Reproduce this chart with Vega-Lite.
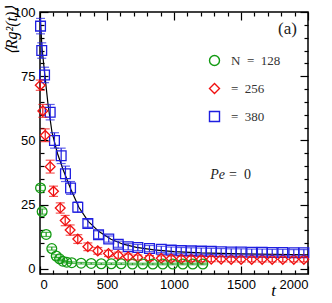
{
  "$schema": "https://vega.github.io/schema/vega-lite/v6.json",
  "width": 268,
  "height": 262,
  "autosize": "none",
  "padding": {"left": 40, "top": 12, "right": 24, "bottom": 29},
  "background": "white",
  "config": {
    "view": {"stroke": "black", "strokeWidth": 1.5},
    "axis": {"grid": false, "domain": false, "tickColor": "black", "tickWidth": 1.2,
             "labelFont": "Liberation Sans", "labelFontSize": 13, "labelColor": "black"},
    "legend": {"orient": "none", "legendX": 168, "legendY": 42, "title": null, "padding": 0,
               "rowPadding": 11, "labelOffset": 10, "symbolSize": 100, "symbolStrokeWidth": 1.4,
               "labelFont": "Liberation Serif", "labelFontSize": 13, "labelColor": "#333"}
  },
  "datasets": {
    "pts": [
      {"N":"380","t":4,"v":94.5,"err":3},{"N":"380","t":13,"v":85,"err":3},{"N":"380","t":34,"v":75.5,"err":3},
      {"N":"380","t":76,"v":61,"err":3},{"N":"380","t":108,"v":50,"err":3},{"N":"380","t":158,"v":44,"err":3},
      {"N":"380","t":190,"v":37,"err":3},{"N":"380","t":228,"v":31.5,"err":2.5},{"N":"380","t":282,"v":24,"err":2},
      {"N":"380","t":357,"v":17.7,"err":1.5},{"N":"380","t":437,"v":13.3,"err":1.5},{"N":"380","t":513,"v":11.6,"err":1.2},
      {"N":"380","t":584,"v":9.6,"err":1.2},{"N":"380","t":658,"v":8.6,"err":1.2},{"N":"380","t":730,"v":8.3,"err":1.2},
      {"N":"380","t":817,"v":7.9,"err":1.2},{"N":"380","t":905,"v":7.6,"err":1.2},{"N":"380","t":979,"v":7.3,"err":1.2},
      {"N":"380","t":1054,"v":7.1,"err":1.2},{"N":"380","t":1128,"v":7.0,"err":1.2},{"N":"380","t":1203,"v":6.9,"err":1.2},
      {"N":"380","t":1278,"v":6.8,"err":1.2},{"N":"380","t":1352,"v":6.7,"err":1.2},{"N":"380","t":1427,"v":6.6,"err":1.2},
      {"N":"380","t":1501,"v":6.6,"err":1.2},{"N":"380","t":1580,"v":6.5,"err":1.2},{"N":"380","t":1658,"v":6.5,"err":1.2},
      {"N":"380","t":1733,"v":6.4,"err":1.2},{"N":"380","t":1812,"v":6.4,"err":1.2},{"N":"380","t":1894,"v":6.3,"err":1.2},
      {"N":"380","t":1969,"v":6.3,"err":1.2},
      {"N":"256","t":2,"v":71.5,"err":2},{"N":"256","t":21,"v":61.5,"err":2.5},{"N":"256","t":39,"v":52,"err":2.5},
      {"N":"256","t":76,"v":39.8,"err":2.5},{"N":"256","t":101,"v":30.2,"err":2},{"N":"256","t":151,"v":23.7,"err":2},
      {"N":"256","t":188,"v":18.8,"err":2},{"N":"256","t":225,"v":15.1,"err":2},{"N":"256","t":282,"v":11.6,"err":1.7},
      {"N":"256","t":357,"v":8.6,"err":1.5},{"N":"256","t":431,"v":7.0,"err":1.3},{"N":"256","t":511,"v":6.0,"err":1.2},
      {"N":"256","t":584,"v":5.3,"err":1.2},{"N":"256","t":658,"v":4.7,"err":1.1},{"N":"256","t":730,"v":4.4,"err":1},
      {"N":"256","t":817,"v":4.2,"err":1},{"N":"256","t":905,"v":4.1,"err":1},{"N":"256","t":979,"v":4.0,"err":1},
      {"N":"256","t":1054,"v":3.9,"err":1},{"N":"256","t":1128,"v":3.9,"err":1},{"N":"256","t":1203,"v":3.8,"err":1},
      {"N":"256","t":1278,"v":3.8,"err":1},{"N":"256","t":1352,"v":3.8,"err":1},{"N":"256","t":1427,"v":3.7,"err":1},
      {"N":"256","t":1501,"v":3.7,"err":1},{"N":"256","t":1580,"v":3.7,"err":1},{"N":"256","t":1658,"v":3.7,"err":1},
      {"N":"256","t":1733,"v":3.7,"err":1},{"N":"256","t":1812,"v":3.7,"err":1},{"N":"256","t":1894,"v":3.7,"err":1},
      {"N":"256","t":1969,"v":3.7,"err":1},
      {"N":"128","t":4,"v":31.5,"err":1},{"N":"128","t":16,"v":22.3,"err":1},{"N":"128","t":46,"v":13.4,"err":0.8},
      {"N":"128","t":88,"v":7.9,"err":0.6},{"N":"128","t":121,"v":5.0,"err":0.5},{"N":"128","t":146,"v":3.9,"err":0.4},
      {"N":"128","t":170,"v":3.0,"err":0.3},{"N":"128","t":200,"v":2.6,"err":0.3},{"N":"128","t":237,"v":2.4,"err":0.3},
      {"N":"128","t":307,"v":2.2,"err":0.3},{"N":"128","t":382,"v":2.1,"err":0.3},{"N":"128","t":457,"v":2.0,"err":0.3},
      {"N":"128","t":532,"v":2.0,"err":0.3},{"N":"128","t":606,"v":2.0,"err":0.3},{"N":"128","t":690,"v":1.9,"err":0.3},
      {"N":"128","t":767,"v":1.9,"err":0.3},{"N":"128","t":842,"v":1.9,"err":0.3},{"N":"128","t":916,"v":1.9,"err":0.3},
      {"N":"128","t":991,"v":1.9,"err":0.3},{"N":"128","t":1066,"v":1.9,"err":0.3},{"N":"128","t":1140,"v":1.9,"err":0.3},
      {"N":"128","t":1215,"v":1.9,"err":0.3}
    ],
    "fit": [
      {"t":2,"v":98},{"t":15,"v":86},{"t":35,"v":76},{"t":60,"v":64},{"t":90,"v":53},{"t":130,"v":45},
      {"t":170,"v":39},{"t":230,"v":31},{"t":290,"v":24},{"t":360,"v":18.5},{"t":440,"v":14.5},{"t":530,"v":11.5},
      {"t":620,"v":9.6},{"t":720,"v":8.4},{"t":850,"v":7.4},{"t":1000,"v":6.7},{"t":1200,"v":6.2},{"t":1500,"v":5.8},
      {"t":2000,"v":5.5}
    ],
    "notes": [
      {"t":1847,"v":93.3,"label":"(a)"}
    ],
    "pe": [
      {"t":1396,"v":36.5}
    ]
  },
  "layer": [
    {
      "data": {"name": "fit"},
      "mark": {"type": "line", "color": "black", "strokeWidth": 1.2},
      "encoding": {
        "x": {"field": "t", "type": "quantitative", "scale": {"domain": [0, 2000], "nice": false},
              "axis": {"orient": "top", "title": null, "values": [0,100,200,300,400,500,600,700,800,900,1000,1100,1200,1300,1400,1500,1600,1700,1800,1900,2000],
                       "labels": false,
                       "tickSize": {"condition": {"test": "datum.value % 500 === 0", "value": -8}, "value": -4}}},
        "y": {"field": "v", "type": "quantitative", "scale": {"domain": [-2, 100], "nice": false, "zero": false},
              "axis": {"orient": "right", "title": null, "values": [0,5,10,15,20,25,30,35,40,45,50,55,60,65,70,75,80,85,90,95,100],
                       "labels": false,
                       "tickSize": {"condition": {"test": "datum.value % 25 === 0", "value": -8}, "value": -4}}}
      }
    },
    {
      "data": {"name": "pts"},
      "mark": {"type": "point", "filled": false, "strokeWidth": 1.3, "opacity": 1},
      "encoding": {
        "x": {"field": "t", "type": "quantitative",
              "axis": {"orient": "bottom", "title": "t", "format": "d",
                       "values": [0,100,200,300,400,500,600,700,800,900,1000,1100,1200,1300,1400,1500,1600,1700,1800,1900,2000],
                       "labelExpr": "datum.value % 500 === 0 ? datum.label : ''",
                       "tickSize": {"condition": {"test": "datum.value % 500 === 0", "value": -8}, "value": -4},
                       "labelPadding": 12,
                       "titleFont": "Liberation Serif", "titleFontStyle": "italic", "titleFontWeight": "normal", "titleFontSize": 17,
                       "titleX": 233, "titleY": 16, "titleBaseline": "middle", "titleAlign": "center"}},
        "y": {"field": "v", "type": "quantitative",
              "axis": {"orient": "left", "title": "⟨Rg²(t)⟩", "format": "d",
                       "values": [0,5,10,15,20,25,30,35,40,45,50,55,60,65,70,75,80,85,90,95,100],
                       "labelExpr": "datum.value % 25 === 0 ? datum.label : ''",
                       "tickSize": {"condition": {"test": "datum.value % 25 === 0", "value": -8}, "value": -4},
                       "labelPadding": 13,
                       "titleFont": "Liberation Serif", "titleFontStyle": "italic", "titleFontWeight": "normal", "titleFontSize": 16,
                       "titleX": -29, "titleY": 18, "titleAngle": -90, "titleAlign": "center", "titleBaseline": "middle"}},
        "color": {"field": "N", "type": "nominal",
                  "scale": {"domain": ["128","256","380"], "range": ["#129a12","#f01010","#1e1ee0"]},
                  "legend": {"labelExpr": "datum.label === '128' ? 'N\u2002=\u2002128' : ('\u2003\u2009=\u2002' + datum.label)"}},
        "shape": {"field": "N", "type": "nominal",
                  "scale": {"domain": ["128","256","380"], "range": ["circle","diamond","square"]},
                  "legend": {"labelExpr": "datum.label === '128' ? 'N\u2002=\u2002128' : ('\u2003\u2009=\u2002' + datum.label)"}},
        "size": {"value": 95}
      }
    },
    {
      "data": {"name": "pts"},
      "mark": {"type": "errorbar", "ticks": {"size": 9}, "thickness": 1.2},
      "encoding": {
        "x": {"field": "t", "type": "quantitative", "axis": null},
        "y": {"field": "v", "type": "quantitative", "axis": null},
        "yError": {"field": "err"},
        "color": {"field": "N", "type": "nominal", "legend": null}
      }
    },
    {
      "data": {"name": "notes"},
      "mark": {"type": "text", "font": "Liberation Serif", "fontSize": 17, "color": "#222", "align": "center", "baseline": "middle"},
      "encoding": {
        "x": {"field": "t", "type": "quantitative", "axis": null},
        "y": {"field": "v", "type": "quantitative", "axis": null},
        "text": {"field": "label"}
      }
    },
    {
      "data": {"name": "pe"},
      "mark": {"type": "text", "font": "Liberation Serif", "fontSize": 14, "fontStyle": "italic", "color": "#222", "align": "right", "baseline": "middle", "dx": -2},
      "encoding": {
        "x": {"field": "t", "type": "quantitative", "axis": null},
        "y": {"field": "v", "type": "quantitative", "axis": null},
        "text": {"value": "Pe"}
      }
    },
    {
      "data": {"name": "pe"},
      "mark": {"type": "text", "font": "Liberation Serif", "fontSize": 14, "color": "#222", "align": "left", "baseline": "middle", "dx": 2},
      "encoding": {
        "x": {"field": "t", "type": "quantitative", "axis": null},
        "y": {"field": "v", "type": "quantitative", "axis": null},
        "text": {"value": "=\u20020"}
      }
    }
  ],
  "resolve": {"axis": {"x": "independent", "y": "independent"}, "legend": {"color": "independent", "shape": "independent"}}
}
